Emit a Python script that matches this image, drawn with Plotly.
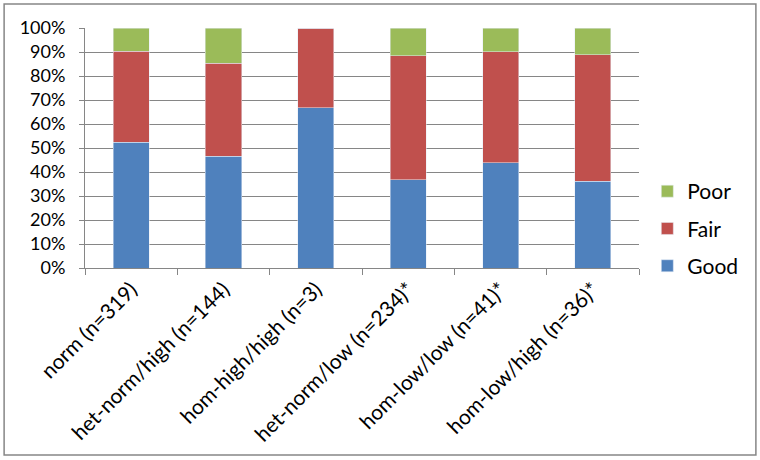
import plotly.graph_objects as go

categories = ["norm (n=319)", "het-norm/high (n=144)", "hom-high/high (n=3)",
              "het-norm/low (n=234)*", "hom-low/low (n=41)*", "hom-low/high (n=36)*"]
good = [0.524, 0.465, 0.667, 0.368, 0.439, 0.361]
fair = [0.379, 0.389, 0.333, 0.517, 0.463, 0.528]
poor = [0.097, 0.146, 0.0, 0.115, 0.098, 0.111]

fig = go.Figure()
fig.add_trace(go.Bar(x=categories, y=good, name="Good", marker_color="#4F81BD",
                     legendgroup="g", legendrank=3))
fig.add_trace(go.Bar(x=categories, y=fair, name="Fair", marker_color="#C0504D",
                     legendgroup="f", legendrank=2))
fig.add_trace(go.Bar(x=categories, y=poor, name="Poor", marker_color="#9BBB59",
                     legendgroup="p", legendrank=1))

fig.update_layout(
    width=760, height=460,
    barmode="stack", bargap=0.61,
    margin=dict(l=85, r=121, t=28, b=192, autoexpand=False),
    paper_bgcolor="white", plot_bgcolor="white",
    font=dict(family="Lato", size=18, color="black"),
    legend=dict(traceorder="grouped", tracegroupgap=7, x=1.015, y=-0.075,
                xanchor="left", yanchor="bottom", font=dict(size=21),
                itemwidth=30),
    xaxis=dict(showline=True, linecolor="#868686", ticks="outside", tickson="boundaries",
               tickcolor="#868686", ticklen=6, tickangle=-45, showgrid=False,
               tickfont=dict(size=21), automargin=False),
    yaxis=dict(range=[0, 1], tickformat=".0%", dtick=0.1, showgrid=True, gridcolor="#868686",
               showline=True, linecolor="#868686", ticks="outside", tickcolor="#868686",
               ticklen=5, ticklabelstandoff=10, zeroline=False, automargin=False),
    shapes=[dict(type="rect", xref="paper", yref="paper", x0=-0.146, x1=1.211, y0=-0.779, y1=1.1,
                 line=dict(color="#868686", width=1.5))],
)

fig.write_html("out.html", config={"displayModeBar": False},
               post_script="document.body.style.margin='0';")
